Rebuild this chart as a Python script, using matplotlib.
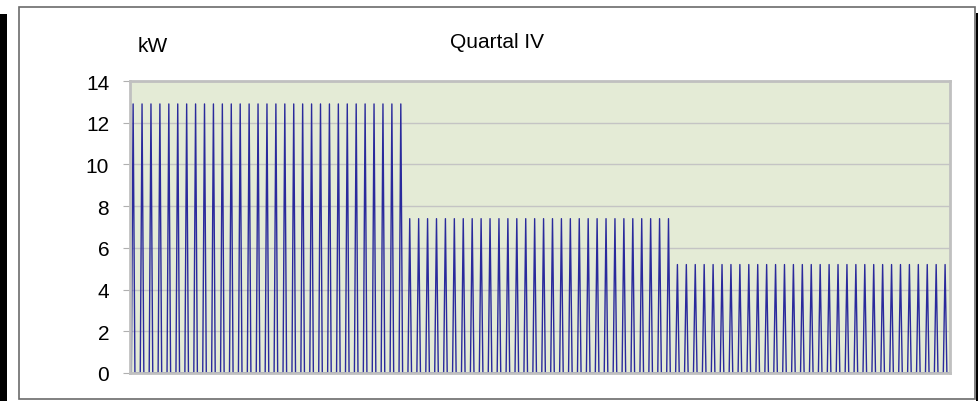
import numpy as np
import matplotlib
matplotlib.use("Agg")
import matplotlib.pyplot as plt
from matplotlib.patches import Rectangle

plt.rcParams['font.family'] = ['Liberation Sans', 'DejaVu Sans']

# ---------------------------------------------
# Data: daily peak load per month (kW), Quartal IV
# ---------------------------------------------
months = ["Oktober", "November", "Dezember"]
days_in_month = [31, 30, 31]
peak_kw = [12.9, 7.4, 5.2]

# shape of one day (fraction of the peak)
day_profile = [0.0, 1.0, 0.0, 0.0, 0.0]

y_ticks = [0, 2, 4, 6, 8, 10, 12, 14]

# build the series day by day
values = []
for n_days, peak in zip(days_in_month, peak_kw):
    for _ in range(n_days):
        values.extend([p * peak for p in day_profile])
values.append(0.0)
values = np.array(values)
t = np.arange(len(values)) / len(day_profile)

# ---------------------------------------------
# Figure
# ---------------------------------------------
W, H = 979, 402
fig = plt.figure(figsize=(W / 100, H / 100), dpi=100)
fig.patch.set_facecolor("white")

# outer frame and shadow stripes
fig.patches.append(Rectangle((19 / W, 1 - 400 / H), (975 - 19) / W, (400 - 8) / H,
                             transform=fig.transFigure, fill=False,
                             edgecolor="#6b6b6b", linewidth=1.2))
fig.patches.append(Rectangle((0, 0), 7 / W, 1 - 15 / H, transform=fig.transFigure,
                             facecolor="black", edgecolor="none"))
fig.patches.append(Rectangle((976 / W, 0), 3 / W, 1 - 14 / H, transform=fig.transFigure,
                             facecolor="black", edgecolor="none"))

ax = fig.add_axes([130 / W, 1 - 374 / H, (950 - 130) / W, (374 - 82) / H])
ax.set_facecolor("#e4ebd6")

ax.plot(t, values, color="#2a2a9c", linewidth=1.0)

ax.set_ylim(0, 14)
ax.set_xlim(-0.15, 91.75)
ax.set_yticks(y_ticks)
ax.set_yticklabels([str(v) for v in y_ticks], fontsize=15)
ax.set_xticks([])
ax.yaxis.grid(True, color="#c4c4c4", linewidth=1)
ax.set_axisbelow(True)
ax.tick_params(axis="y", length=5, color="#b0b0b0", pad=10)

for s in ax.spines.values():
    s.set_color("#c0c0c0")
    s.set_linewidth(2)

fig.text(153 / W, 1 - 46 / H, "kW", ha="center", va="center", fontsize=15)
fig.text(497 / W, 1 - 43 / H, "Quartal IV", ha="center", va="center", fontsize=15)

fig.savefig("out.png", dpi=100)
